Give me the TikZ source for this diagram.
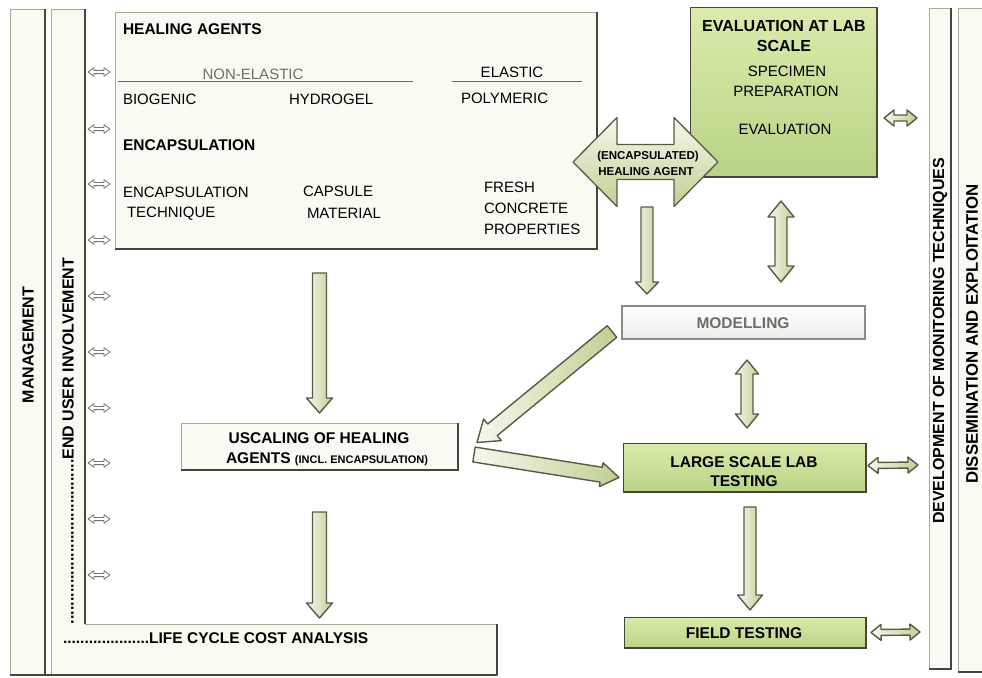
\documentclass[tikz,border=0pt]{standalone}
\usepackage{fontspec}
\setmainfont{Liberation Sans}
\usetikzlibrary{calc}
\definecolor{cream}{HTML}{FBFAF2}
\definecolor{edgel}{HTML}{A9A99C}
\definecolor{edged}{HTML}{45453A}
\definecolor{gtop}{HTML}{DAEBAB}
\definecolor{gbot}{HTML}{B9D385}
\definecolor{aedge}{HTML}{5A5A44}
\definecolor{afillA}{HTML}{F6F7EE}
\definecolor{afillB}{HTML}{BFD093}
\definecolor{txtgray}{HTML}{6E6E66}
\definecolor{modedge}{HTML}{8B8B80}
\newcommand\blkarr[6][]{%
  \coordinate (bkH) at ($(#3)!#6!(#2)$);
  \path[blk,#1] ($(#2)!#4!90:(#3)$) -- ($(bkH)!#4!90:(#3)$) -- ($(bkH)!#5!90:(#3)$) -- (#3)
    -- ($(bkH)!#5!-90:(#3)$) -- ($(bkH)!#4!-90:(#3)$) -- ($(#2)!#4!-90:(#3)$) -- cycle;}
\newcommand\dblarr[6][]{%
  \coordinate (bkP) at ($(#2)!#6!(#3)$);
  \coordinate (bkQ) at ($(#3)!#6!(#2)$);
  \path[blk,#1] (#2) -- ($(bkP)!#5!90:(#3)$) -- ($(bkP)!#4!90:(#3)$) -- ($(bkQ)!#4!90:(#3)$)
    -- ($(bkQ)!#5!90:(#3)$) -- (#3) -- ($(bkQ)!#5!-90:(#3)$) -- ($(bkQ)!#4!-90:(#3)$)
    -- ($(bkP)!#4!-90:(#3)$) -- ($(bkP)!#5!-90:(#3)$) -- cycle;}
\begin{document}
\begin{tikzpicture}[x=1pt,y=-1pt,
  every node/.style={inner sep=0pt, outer sep=0pt},
  reg/.style={font=\fontsize{15}{17}\selectfont},
  bld/.style={font=\fontsize{15.5}{18}\selectfont\bfseries},
  rot/.style={font=\fontsize{16}{18}\selectfont\bfseries, rotate=90},
  small/.style={font=\fontsize{11.5}{13}\selectfont\bfseries},
  whitebox/.style={draw=edgel, fill=cream, line width=0.8pt},
  greenbox/.style={draw=edged, top color=gtop, bottom color=gbot, line width=1pt},
  modbox/.style={draw=modedge, top color=white, bottom color=black!7, line width=1.2pt},
  darkedge/.style={draw=edged, line width=2pt},
  blk/.style={draw=aedge, line width=1.4pt, left color=afillA, right color=afillB, line join=round},
  thinarr/.style={draw=black!55, line width=0.8pt, left color=white, right color=white},
  encarr/.style={draw=aedge, line width=1.3pt, top color=afillA, bottom color=afillB}]
\useasboundingbox (0,0) rectangle (982,677);

% ---------- side columns ----------
\path[whitebox] (10,9) rectangle (45,675);
\draw[darkedge] (45,9) -- (45,675);
\path[whitebox] (51,9) -- (85,9) -- (85,624) -- (497,624) -- (497,675) -- (51,675) -- cycle;
\draw[darkedge] (85,9) -- (85,624);
\draw[darkedge] (497,624) -- (497,675);
\draw[draw=edged, line width=1.5pt] (10,675) -- (497,675);
\path[whitebox] (929,8) rectangle (951,669);
\draw[darkedge] (951,8) -- (951,669) -- (929,669);
\path[whitebox] (958,8) rectangle (995,672);
\draw[darkedge] (958,672) -- (995,672);

\node[rot] (tman) at (28,345) {MANAGEMENT};
\node[rot, anchor=west] (teu) at (68,624) {.....................................END USER INVOLVEMENT};
\node[bld, anchor=west] (tlcca) at (63,638) {....................LIFE CYCLE COST ANALYSIS};
\node[rot] (tdev) at (940,341) {DEVELOPMENT OF MONITORING TECHNIQUES};
\node[rot, font=\fontsize{16.8}{18}\selectfont\bfseries] (tdis) at (972,334) {DISSEMINATION AND EXPLOITATION};

% ---------- boxes ----------
\node[whitebox, minimum width=482pt, minimum height=237pt] (heal) at (356,130.5) {};
\draw[darkedge] (heal.north east) -- (heal.south east) -- (heal.south west);
\node[greenbox, minimum width=187pt, minimum height=169pt] (eval) at (783.5,92.5) {};
\draw[darkedge] (eval.north east) -- (eval.south east) -- (eval.south west);
\node[modbox, minimum width=243pt, minimum height=33pt] (model) at (743.5,322.5) {};
\draw[draw=modedge, line width=2pt] (model.north west) -- (model.south west);
\draw[draw=modedge, line width=2pt] (model.north east) -- (model.south east);
\node[greenbox, minimum width=243pt, minimum height=49pt] (large) at (744.5,467.5) {};
\draw[darkedge] (large.north east) -- (large.south east) -- (large.south west);
\node[greenbox, minimum width=242pt, minimum height=31pt] (field) at (745,632.5) {};
\draw[darkedge] (field.north east) -- (field.south east) -- (field.south west);
\node[whitebox, minimum width=277pt, minimum height=47pt] (uscal) at (319.5,446.5) {};
\draw[darkedge] (uscal.north east) -- (uscal.south east) -- (uscal.south west);

% ---------- healing agents content ----------
\node[bld, anchor=west] (tha) at (123,29) {HEALING AGENTS};
\node[reg, text=txtgray] (tne) at (253,74) {NON-ELASTIC};
\node[reg] (tel) at (512,72) {ELASTIC};
\draw[edged!80, line width=0.8pt] (118,81) -- (413,81);
\draw[edged!80, line width=0.8pt] (452,81) -- (582,81);
\node[reg, anchor=west] (tbio) at (123,99) {BIOGENIC};
\node[reg, anchor=west] (thyd) at (289,99) {HYDROGEL};
\node[reg, anchor=west] (tpol) at (461,98) {POLYMERIC};
\node[bld, anchor=west] (tenc) at (123,145) {ENCAPSULATION};
\node[reg, anchor=west] (tet1) at (123,192) {ENCAPSULATION};
\node[reg, anchor=west] (tet2) at (127,214) {TECHNIQUE};
\node[reg, anchor=west] (tcm1) at (303,191) {CAPSULE};
\node[reg, anchor=west] (tcm2) at (307,213) {MATERIAL};
\node[reg, anchor=west] (tfc1) at (484,187) {FRESH};
\node[reg, anchor=west] (tfc2) at (484,208) {CONCRETE};
\node[reg, anchor=west] (tfc3) at (484,229) {PROPERTIES};

% ---------- evaluation content ----------
\node[bld, font=\fontsize{16}{18}\selectfont\bfseries] (tev1) at (784,26) {EVALUATION AT LAB};
\node[bld, font=\fontsize{16}{18}\selectfont\bfseries] (tev2) at (784,46) {SCALE};
\node[reg] (tev3) at (787,71) {SPECIMEN};
\node[reg] (tev4) at (786,91) {PREPARATION};
\node[reg] (tev5) at (785,129) {EVALUATION};

\node[bld, text=txtgray] (tmod) at (743,323) {MODELLING};
\node[bld] (tls1) at (744,462) {LARGE SCALE LAB};
\node[bld] (tls2) at (744,481) {TESTING};
\node[bld] (tft) at (744,633) {FIELD TESTING};
\node[bld] (tus1) at (319,438) {USCALING OF HEALING};
\node[bld] (tus2) at (327,459) {AGENTS {\fontsize{11}{13}\selectfont (INCL. ENCAPSULATION)}};

% ---------- connectors ----------
\coordinate (e1) at (573,162);
\coordinate (e2) at (718,162);
\dblarr[encarr]{e1}{e2}{17.5pt}{44.5pt}{44pt}
\node[small] (tenca) at (648,157) {(ENCAPSULATED)};
\node[small] (tencb) at (646,172) {HEALING AGENT};

\coordinate (v1s) at ($(uscal.north |- heal.south)+(0,24)$);
\coordinate (v1e) at ($(uscal.north)+(0,-10)$);
\blkarr{v1s}{v1e}{7pt}{13pt}{15pt}
\coordinate (v2s) at ($(uscal.south)+(0,42)$);
\coordinate (v2e) at ($(uscal.south)+(0,148)$);
\blkarr{v2s}{v2e}{7pt}{13pt}{15pt}
\coordinate (v3s) at (647,207);
\coordinate (v3e) at ($(model.north -| v3s)+(0,-12)$);
\blkarr{v3s}{v3e}{6pt}{11.5pt}{12pt}
\coordinate (d1s) at ($(eval.south)+(-2.5,24)$);
\coordinate (d1e) at ($(model.north -| d1s)+(0,-24)$);
\dblarr{d1s}{d1e}{6pt}{13pt}{16pt}
\coordinate (d2s) at ($(model.south)+(3.5,21)$);
\coordinate (d2e) at ($(large.north -| d2s)+(0,-15)$);
\dblarr{d2s}{d2e}{6pt}{11.5pt}{14pt}
\coordinate (v4s) at ($(large.south)+(5.5,15)$);
\coordinate (v4e) at ($(field.north -| v4s)+(0,-7)$);
\blkarr{v4s}{v4e}{6pt}{12.5pt}{15pt}
\coordinate (g1s) at ($(model.west)+(-10,9)$);
\coordinate (g1e) at ($(uscal.east)+(19,-4)$);
\blkarr{g1s}{g1e}{7.5pt}{14pt}{20pt}
\coordinate (g2s) at ($(uscal.east)+(16,8)$);
\coordinate (g2e) at ($(large.west)+(-4,10)$);
\blkarr{g2s}{g2e}{7.5pt}{12pt}{18pt}

\coordinate (r1a) at (884,118);
\coordinate (r1b) at (917,118);
\dblarr{r1a}{r1b}{3pt}{8pt}{10pt}
\coordinate (r2a) at ($(large.east)+(2,-2)$);
\coordinate (r2b) at (918,465);
\dblarr{r2a}{r2b}{3pt}{8pt}{10pt}
\coordinate (r3a) at ($(field.east)+(5,0)$);
\coordinate (r3b) at (920,632);
\dblarr{r3a}{r3b}{3pt}{8pt}{10pt}

\foreach \yy [count=\i] in {72,129,184,240,296,352,408,463,519,575}{
  \coordinate (la\i) at (88,\yy);
  \coordinate (lb\i) at (110,\yy);
  \dblarr[thinarr]{la\i}{lb\i}{1.6pt}{4.2pt}{6pt}
}
\end{tikzpicture}
\end{document}
